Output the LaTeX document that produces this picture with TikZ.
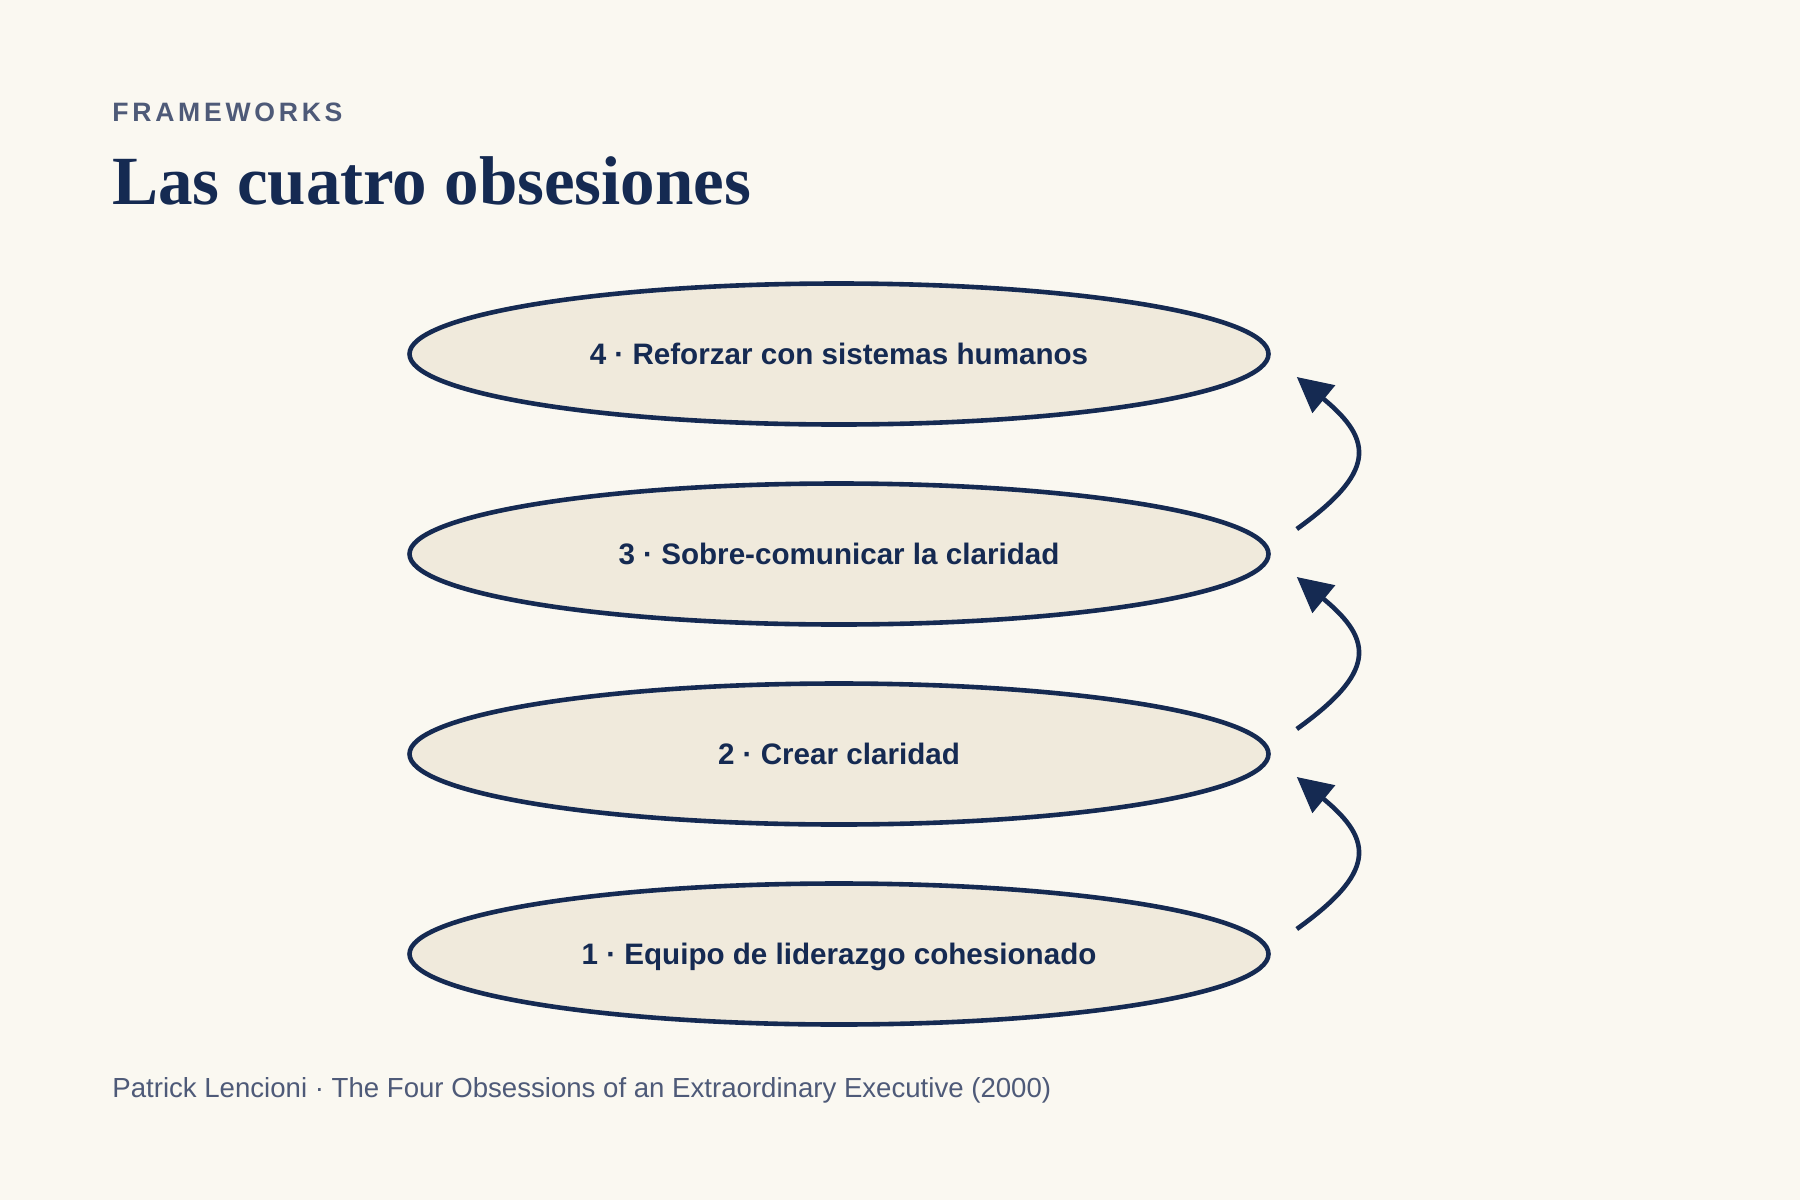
\documentclass[tikz,border=0pt]{standalone}
\usepackage{fontspec}
\setmainfont{Liberation Serif}
\setsansfont{Liberation Sans}
\newfontfamily\labelfont{Liberation Sans}
\newfontfamily\kickerfont[LetterSpace=14]{Liberation Sans}
\usetikzlibrary{shapes.geometric,arrows.meta}
\definecolor{bg}{HTML}{FAF8F1}
\definecolor{navy}{HTML}{152A52}
\definecolor{ovalfill}{HTML}{F0EADC}
\definecolor{slate}{HTML}{4E5A78}
\begin{document}
\begin{tikzpicture}[x=0.5pt,y=-0.5pt,
  oval/.style={ellipse, draw=navy, line width=2.3pt, fill=ovalfill,
    minimum width=429.5pt, minimum height=70.5pt, inner sep=0pt,
    text=navy, text height=10.6pt, text depth=0pt,
    font=\labelfont\bfseries\fontsize{14.8}{18}\selectfont},
  arr/.style={draw=navy, line width=2.3pt, -{Triangle[length=17.5pt,width=17.5pt]}},
  txt/.style={anchor=base west, inner sep=0pt}]
\fill[bg] (0,0) rectangle (1800,1200);
\useasboundingbox (0,0) rectangle (1800,1200);
\node[txt, text=slate, font=\kickerfont\bfseries\fontsize{13.3}{16}\selectfont] (kicker) at (112,121.5) {FRAMEWORKS};
\node[txt, text=navy, font=\bfseries\fontsize{34.5}{40}\selectfont] (title) at (112,204) {Las cuatro obsesiones};
\node[oval] (e4) at (839,354) {4 · Reforzar con sistemas humanos};
\node[oval] (e3) at (839,554) {3 · Sobre-comunicar la claridad};
\node[oval] (e2) at (839,754) {2 · Crear claridad};
\node[oval] (e1) at (839,954) {1 · Equipo de liderazgo cohesionado};
\foreach \i/\j in {1/2,2/3,3/4}{
  \coordinate (s\i) at ([shift={(26,-25)}]e\i.east);
  \coordinate (t\i) at ([shift={(26,23)}]e\j.east);
  \draw[arr] (s\i) .. controls ([shift={(78,-56)}]s\i) and ([shift={(78,64)}]t\i) .. (t\i);
}
\node[txt, text=slate, font=\sffamily\fontsize{13.8}{16}\selectfont] (src) at (112,1097) {Patrick Lencioni · The Four Obsessions of an Extraordinary Executive (2000)};
\end{tikzpicture}
\end{document}
